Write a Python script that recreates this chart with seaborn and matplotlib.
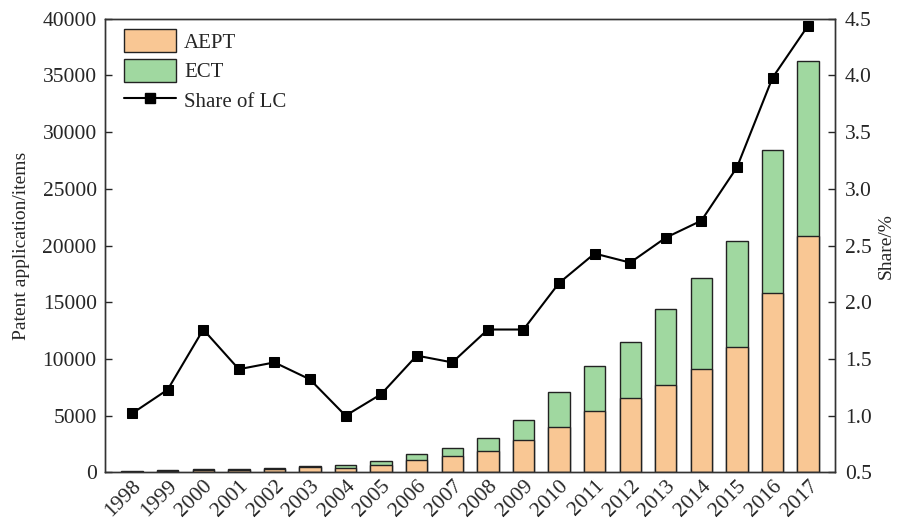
import numpy as np
import pandas as pd
import matplotlib
matplotlib.use("Agg")
import matplotlib.pyplot as plt
import seaborn as sns
from matplotlib.patches import Patch
from matplotlib.lines import Line2D

years = [str(y) for y in range(1998, 2018)]
aept = [80, 120, 230, 240, 340, 480, 400, 630, 1090, 1450, 1890, 2860,
        4030, 5440, 6520, 7730, 9100, 11040, 15800, 20880]
ect = [50, 70, 50, 50, 80, 120, 230, 360, 490, 740, 1120, 1790,
       3020, 3900, 4960, 6660, 8020, 9340, 12630, 15390]
share = [1.02, 1.23, 1.76, 1.41, 1.47, 1.32, 1.00, 1.19, 1.53, 1.47,
         1.76, 1.76, 2.17, 2.43, 2.35, 2.57, 2.72, 3.19, 3.98, 4.44]

aept_color = "#F9C794"
ect_color = "#A0D8A0"

df = pd.DataFrame({"year": years, "AEPT": aept, "ECT": ect, "share": share})
df["total"] = df["AEPT"] + df["ECT"]
df["pos"] = np.arange(len(df))

sns.set_style("ticks")
plt.rcParams["font.family"] = ["Liberation Serif", "DejaVu Serif"]

fig, ax = plt.subplots(figsize=(8.98, 5.22), dpi=100)
fig.subplots_adjust(left=0.117, right=0.930, top=0.964, bottom=0.095)

# stacked bars: total (ECT on top) drawn first, AEPT over it
sns.barplot(data=df, x="year", y="total", color=ect_color, saturation=1,
            width=0.6, edgecolor="#222222", linewidth=1.0, ax=ax)
sns.barplot(data=df, x="year", y="AEPT", color=aept_color, saturation=1,
            width=0.6, edgecolor="#222222", linewidth=1.0, ax=ax)

ax.set_ylim(0, 40000)
ax.set_xlim(-0.76, 19.76)
ax.set_yticks(np.arange(0, 40001, 5000))
ax.set_xlabel("")
ax.set_ylabel("Patent application/items", fontsize=14, labelpad=9)
ax.tick_params(axis="y", direction="in", length=5, labelsize=15.5, width=1, pad=6)
ax.tick_params(axis="x", length=0, labelsize=15.5, pad=3)
for lbl in ax.get_xticklabels():
    lbl.set_rotation(45)
    lbl.set_ha("right")
    lbl.set_rotation_mode("anchor")

ax2 = ax.twinx()
sns.lineplot(data=df, x="pos", y="share", color="black", linewidth=1.5,
             marker="s", markersize=7, markeredgecolor="black", ax=ax2)
ax2.set_ylim(0.5, 4.5)
ax2.set_yticks(np.arange(0.5, 4.51, 0.5))
ax2.set_yticklabels([f"{v:.1f}" for v in np.arange(0.5, 4.51, 0.5)])
ax2.set_ylabel("Share/%", fontsize=14, labelpad=4)
ax2.tick_params(axis="y", direction="in", length=5, labelsize=15.5, width=1, pad=7)
ax2.set_xlim(-0.76, 19.76)

for a in (ax, ax2):
    for s in a.spines.values():
        s.set_linewidth(1.0)
        s.set_color("#333333")

handles = [
    Patch(facecolor=aept_color, edgecolor="#222222", linewidth=1.0, label="AEPT"),
    Patch(facecolor=ect_color, edgecolor="#222222", linewidth=1.0, label="ECT"),
    Line2D([], [], color="black", linewidth=1.5, marker="s", markersize=7,
           label="Share of LC"),
]
ax2.legend(handles=handles, loc="upper left", frameon=False, fontsize=15,
           handlelength=2.5, handleheight=1.3, handletextpad=0.4,
           labelspacing=0.3, borderaxespad=0.0, borderpad=0.5,
           bbox_to_anchor=(0.011, 1.0))

fig.savefig("out.png", dpi=100)
